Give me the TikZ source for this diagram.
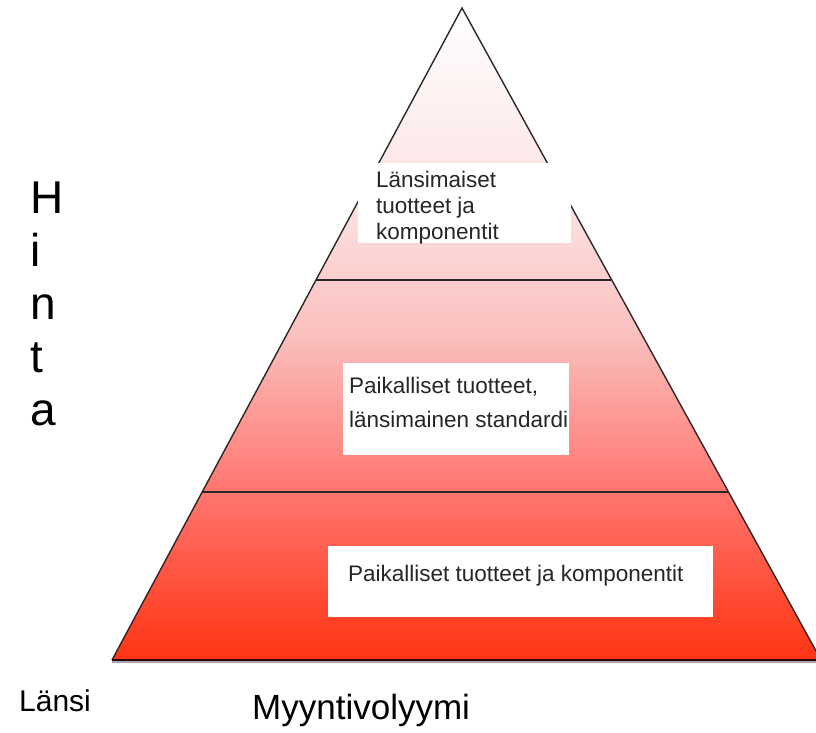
\documentclass[tikz,border=0pt]{standalone}
\usepackage{fontspec}
\setmainfont{Liberation Sans}
\definecolor{pyrA}{RGB}{255,52,22}
\definecolor{pyrB}{RGB}{255,66,38}
\definecolor{pyrC}{RGB}{255,118,112}
\definecolor{pyrD}{RGB}{250,192,190}
\definecolor{pyrE}{RGB}{252,226,226}
\definecolor{edgegray}{RGB}{45,40,40}
\pgfdeclareverticalshading{pyrshade}{100bp}{%
  color(0bp)=(pyrA); color(25bp)=(pyrA); color(28bp)=(pyrB); color(38bp)=(pyrC);
  color(50bp)=(pyrD); color(60bp)=(pyrE); color(75bp)=(white); color(100bp)=(white)}
\tikzset{
  whitebox/.style={fill=white, draw=none},
  boxtext/.style={anchor=base west, inner sep=0pt, align=left, text=black!85},
  edge/.style={draw=edgegray, line width=1.4pt},
  divider/.style={draw=black!85, line width=1.3pt},
}
\begin{document}
\begin{tikzpicture}[x=1pt,y=-1pt]
\useasboundingbox (0,0) rectangle (816,733);
\begin{scope}
\clip (0,0) rectangle (816,733);
% pyramid
\coordinate (apex) at (462,8);
\coordinate (bl) at (112,660);
\coordinate (br) at (821,660);
\fill[shading=pyrshade] (apex) -- (bl) -- (br) -- cycle;
\draw[edge] (bl) -- (apex) -- (br);
\draw[draw=black!35, line width=1.2pt] (112,662) -- (br |- 0,662);
\draw[draw=black!80!red, line width=1.8pt] (bl) -- (br);
\end{scope}
% dividers
\coordinate (d1l) at (316,280);
\coordinate (d1r) at (611,280);
\coordinate (d2l) at (202,492);
\coordinate (d2r) at (728,492);
\draw[divider] (d1l) -- (d1r);
\draw[divider] (d2l) -- (d2r);
% boxes
\fill[whitebox] (358,163) rectangle (571,243);
\fill[whitebox] (343,363) rectangle (569,455);
\fill[whitebox] (328,546) rectangle (713,617);
\node[boxtext, font=\fontsize{22.5}{26}\selectfont] (t1) at (376,239) {Länsimaiset\\tuotteet ja\\komponentit};
\node[boxtext, font=\fontsize{22.5}{34}\selectfont] (t2) at (349,427) {Paikalliset tuotteet,\\länsimainen standardi};
\node[boxtext, font=\fontsize{22.5}{26}\selectfont] (t3) at (348,581) {Paikalliset tuotteet ja komponentit};
% axis labels
\node[anchor=base west, inner sep=0pt, align=left, font=\fontsize{46}{53}\selectfont] (hinta) at (30,425) {H\\i\\n\\t\\a};
\node[anchor=base west, inner sep=0pt, font=\fontsize{30}{34}\selectfont] (lansi) at (19,711) {Länsi};
\node[anchor=base west, inner sep=0pt, font=\fontsize{35}{40}\selectfont] (myynti) at (252,719) {Myyntivolyymi};
\end{tikzpicture}
\end{document}
